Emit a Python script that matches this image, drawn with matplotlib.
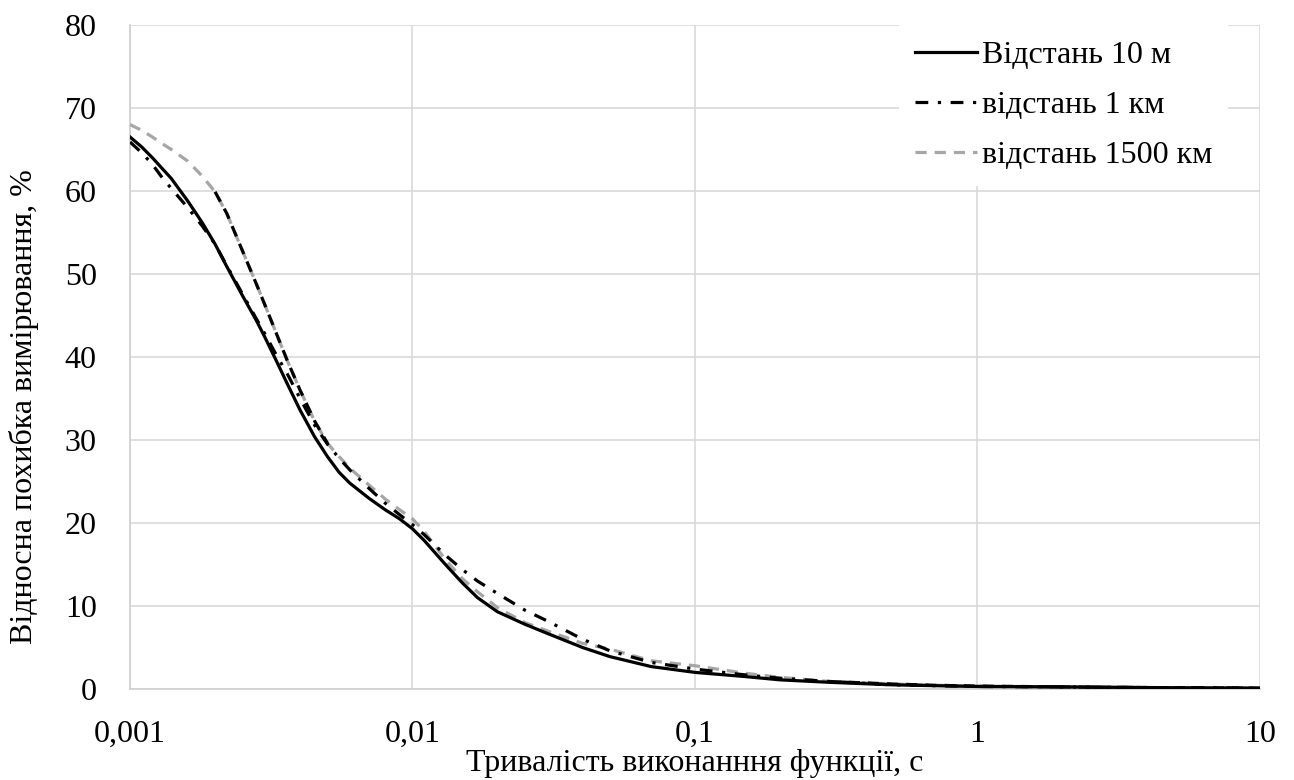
import matplotlib
matplotlib.use('Agg')
import matplotlib.pyplot as plt
from matplotlib.ticker import FixedLocator, FixedFormatter, NullLocator
import numpy as np

plt.rcParams['font.family'] = ['Liberation Serif', 'DejaVu Serif']

# дані
x_t = [0.001, 0.0011, 0.0012, 0.0013, 0.0014, 0.0016, 0.0018, 0.002, 0.0022, 0.0025,
       0.0028, 0.003, 0.0033, 0.0036, 0.004, 0.0045, 0.005, 0.0055, 0.006, 0.007,
       0.008, 0.009, 0.01, 0.011, 0.013, 0.015, 0.017, 0.02, 0.025, 0.03,
       0.04, 0.05, 0.07, 0.1, 0.15, 0.2, 0.3, 0.5, 0.7, 1,
       2, 3, 5, 10]
y_10m = [66.5, 65.3, 64.0, 62.7, 61.5, 58.8, 56.2, 53.6, 50.9, 47.4,
         44.4, 42.4, 39.5, 36.8, 33.6, 30.4, 28.0, 26.1, 24.8, 23.0,
         21.6, 20.5, 19.3, 17.9, 15.1, 12.8, 11.0, 9.3, 7.8, 6.7,
         5.0, 3.9, 2.7, 2.0, 1.5, 1.1, 0.8, 0.5, 0.4, 0.3,
         0.25, 0.2, 0.15, 0.1]
y_1km = [65.9, 64.6, 63.2, 61.6, 60.3, 58.0, 55.8, 53.6, 51.0, 47.6,
         44.6, 42.8, 40.2, 38.0, 35.0, 31.8, 29.5, 27.8, 26.4, 24.2,
         22.4, 21.0, 19.8, 18.6, 16.2, 14.4, 13.0, 11.5, 9.5, 8.2,
         6.0, 4.6, 3.2, 2.4, 1.7, 1.3, 0.9, 0.5, 0.4, 0.3,
         0.25, 0.2, 0.15, 0.1]
y_1500km = [68.0, 67.3, 66.5, 65.7, 65.0, 63.6, 61.8, 59.9, 57.3, 52.8,
            48.8, 46.3, 42.8, 39.6, 36.0, 32.3, 29.6, 28.0, 26.6, 24.6,
            22.9, 21.6, 20.5, 19.0, 15.7, 13.3, 11.7, 9.8, 8.0, 7.0,
            5.5, 4.8, 3.4, 2.8, 1.9, 1.4, 0.9, 0.6, 0.45, 0.35,
            0.25, 0.2, 0.15, 0.1]
# ділянки кривої 1500 км, що в оригіналі намальовані чорним
black_parts = [(0.002, 0.005), (0.3, 10)]

x_ticks = [0.001, 0.01, 0.1, 1, 10]
x_tick_labels = ['0,001', '0,01', '0,1', '1', '10']
y_ticks = [0, 10, 20, 30, 40, 50, 60, 70, 80]

fs = 23
fig = plt.figure(figsize=(12.94, 7.80), dpi=100)
ax = fig.add_axes([0.1005, 0.1167, 0.873, 0.8513])

dash = (0, (3.5, 2.5))
ax.plot(x_t, y_1500km, color='#a6a6a6', linestyle=dash, linewidth=2.3,
        label='відстань 1500 км', zorder=3)
x_arr = np.array(x_t)
y_arr = np.array(y_1500km)
for a, b in black_parts:
    m = (x_arr >= a) & (x_arr <= b)
    ax.plot(x_arr[m], y_arr[m], color='black', linestyle=dash, linewidth=2.3, zorder=4)
ax.plot(x_t, y_1km, color='black', linestyle=(0, (4, 3, 1, 3)), linewidth=2.3,
        label='відстань 1 км', zorder=3)
ax.plot(x_t, y_10m, color='black', linestyle='-', linewidth=2.3,
        label='Відстань 10 м', zorder=3)

ax.set_xscale('log')
ax.set_xlim(0.001, 10)
ax.set_ylim(0, 80)
ax.xaxis.set_major_locator(FixedLocator(x_ticks))
ax.xaxis.set_major_formatter(FixedFormatter(x_tick_labels))
ax.xaxis.set_minor_locator(NullLocator())
ax.set_yticks(y_ticks)

ax.grid(True, which='major', color='#d9d9d9', linewidth=1.2)
ax.set_axisbelow(True)
for s in ['top', 'right']:
    ax.spines[s].set_visible(False)
for s in ['left', 'bottom']:
    ax.spines[s].set_color('#d0d0d0')
    ax.spines[s].set_linewidth(1.2)
ax.tick_params(length=0, labelsize=fs, labelcolor='black')
ax.tick_params(axis='y', pad=24)
ax.tick_params(axis='x', pad=22)

ax.set_xlabel('Тривалість виконанння функції, с', fontsize=fs, labelpad=0)
ax.set_ylabel('Відносна похибка вимірювання, %', fontsize=fs)
ax.yaxis.set_label_coords(-0.0805, 0.425)

h, l = ax.get_legend_handles_labels()
order = [2, 1, 0]
leg = ax.legend([h[i] for i in order], [l[i] for i in order], loc='upper right',
                bbox_to_anchor=(0.972, 1.0), fontsize=fs, frameon=True,
                handlelength=1.95, handletextpad=0.15, labelspacing=0.64,
                borderaxespad=0, borderpad=0.5)
leg.get_frame().set_edgecolor('none')
leg.get_frame().set_facecolor('white')
leg.get_frame().set_alpha(1)
leg.get_frame().set_boxstyle('square', pad=0)

fig.savefig('out.png', dpi=100)
